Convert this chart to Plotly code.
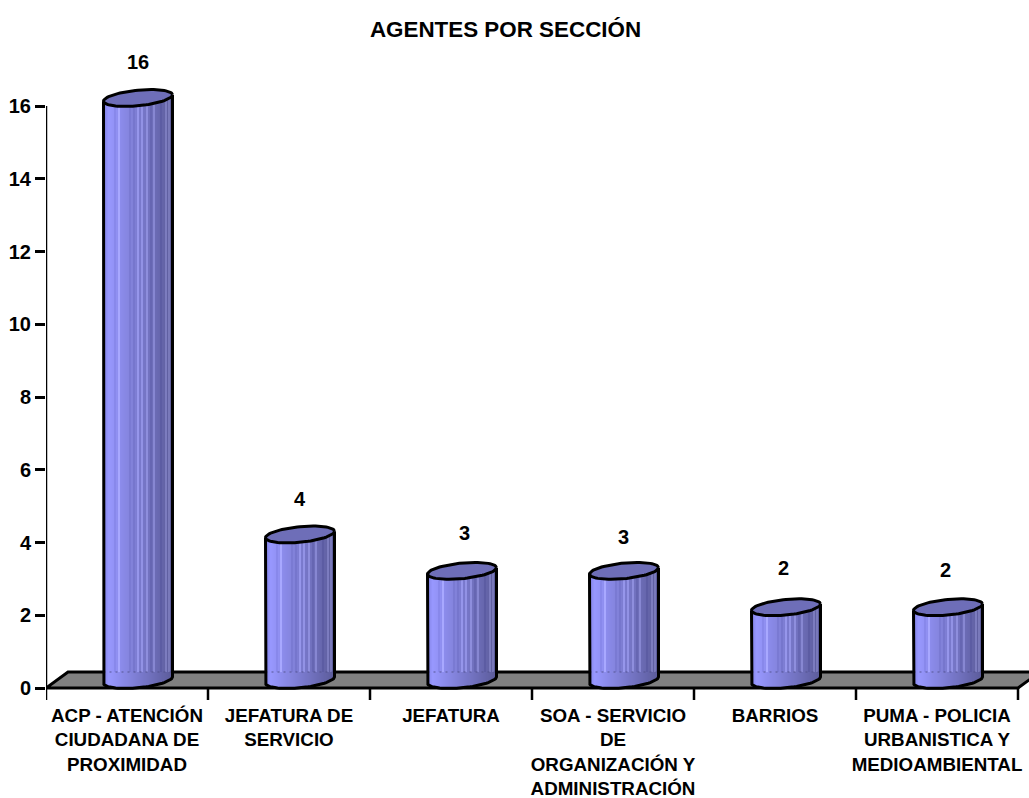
import plotly.graph_objects as go
import numpy as np

categories = ["ACP - ATENCIÓN<br>CIUDADANA DE<br>PROXIMIDAD", "JEFATURA DE<br>SERVICIO", "JEFATURA",
              "SOA - SERVICIO<br>DE<br>ORGANIZACIÓN Y<br>ADMINISTRACIÓN", "BARRIOS",
              "PUMA - POLICIA<br>URBANISTICA Y<br>MEDIOAMBIENTAL"]
values = [16, 4, 3, 3, 2, 2]
y_ticks = [0, 2, 4, 6, 8, 10, 12, 14, 16]
label_shift_y = [44, 44, 46, 42, 47, 45]
label_shift_x = [0, 0, 2, -1, -3, -3]
title = "AGENTES POR SECCIÓN"

W, H = 1029, 798
L, R0, T, B0 = 46, 1029, 30, 700
PX_X = 1 / 162.0
PX_Y = 1 / 36.375
x0 = -0.5
xmax = x0 + (R0 - L) * PX_X
ymin = -(B0 - 688) * PX_Y
ymax = (688 - T) * PX_Y

cx_off = 11.0 * PX_X
a = 34.5 * PX_X
lift = 8.0 * PX_Y
shear = 3.2 * PX_Y
b = 7.8 * PX_Y
N = 69
FONT = "Liberation Sans"
light_streaks = [15, 34, 38, 43, 50, 62, 65]
dark_streaks = [11, 26, 30, 47, 57]


def color(u, add=0):
    f = (u + 1) / 2
    if f < 0.08:
        g = f / 0.08
        r, bl = 128 + 24 * g, 225 + 30 * g
    else:
        g = (f - 0.08) / 0.92
        r, bl = 152 - 60 * g, 255 - 100 * g
    return f"rgb({int(min(r + add, 255))},{int(min(r + add, 255))},{int(min(bl + add, 255))})"


fig = go.Figure()
cx = np.arange(len(values)) + cx_off
vals = np.array(values, float)
dx = 22 * PX_X
dy = 16 * PX_Y
for k in range(N):
    u = -1 + (2 * k + 1) / N
    base = lift + shear * u - b * np.sqrt(1 - u * u)
    top = vals + lift + shear * u
    fig.add_bar(x=cx + u * a, y=top - base, base=np.full(len(vals), base), width=2 * a / N,
                marker=dict(color=color(u), line=dict(width=0)), hoverinfo="skip", showlegend=False)
for streaks, add in ((light_streaks, 26), (dark_streaks, -10)):
    for p in streaks:
        u = -1 + (2 * p + 1) / N
        top = vals + lift + shear * u
        fig.add_bar(x=cx + u * a, y=top - dy, base=np.full(len(vals), dy), width=2 * a / N,
                    marker=dict(color=color(u, add), line=dict(width=0)), hoverinfo="skip", showlegend=False)

t_all = np.linspace(0, 2 * np.pi, 81)
t_front = np.linspace(np.pi, 2 * np.pi, 41)
for c0, v in zip(cx, vals):
    # faint dotted band where the floor's back edge shows through
    fig.add_scatter(x=[c0 - a, c0 + a], y=[dy, dy], mode="lines",
                    line=dict(color="rgba(80,80,140,0.45)", width=2, dash="2px,4px"), hoverinfo="skip",
                    showlegend=False, cliponaxis=False)
    # body outline
    xs = c0 + a * np.cos(t_front)
    ys = lift + shear * np.cos(t_front) + b * np.sin(t_front)
    xo = np.r_[c0 - a, xs, c0 + a]
    yo = np.r_[v + lift - shear, ys, v + lift + shear]
    fig.add_scatter(x=xo, y=yo, mode="lines", line=dict(color="black", width=3), hoverinfo="skip",
                    showlegend=False, cliponaxis=False)
    # top ellipse
    fig.add_scatter(x=c0 + a * np.cos(t_all), y=v + lift + shear * np.cos(t_all) + b * np.sin(t_all),
                    mode="lines", fill="toself", fillcolor="#6E6EB8", line=dict(color="black", width=3),
                    hoverinfo="skip", showlegend=False, cliponaxis=False)

# axis line and category ticks
edges = np.arange(len(values) + 1) - 0.5
tx, ty = [], []
for e in edges:
    tx += [e, e, None]
    ty += [0, ymin, None]
fig.add_scatter(x=tx, y=ty, mode="lines", line=dict(color="black", width=2.5), hoverinfo="skip",
                showlegend=False, cliponaxis=False)
fig.add_scatter(x=[x0, x0], y=[0, y_ticks[-1]], mode="lines", line=dict(color="black", width=2.5), hoverinfo="skip",
                showlegend=False, cliponaxis=False)

floor = f"M{x0},0 L{edges[-1]},0 L{edges[-1] + dx},{dy} L{x0 + dx},{dy} Z"
shapes = [dict(type="path", path=floor, xref="x", yref="y", fillcolor="#808080",
               line=dict(color="black", width=3), layer="below")]

ann = [dict(x=c0, y=v, text=f"<b>{int(v)}</b>", showarrow=False, yshift=sy, xshift=sx, xanchor="center",
            yanchor="middle", font=dict(family=FONT, size=20, color="black"))
       for c0, v, sy, sx in zip(cx, vals, label_shift_y, label_shift_x)]

fig.update_layout(
    width=W, height=H, autosize=False, barmode="overlay", paper_bgcolor="white", plot_bgcolor="white",
    margin=dict(l=L, r=W - R0, t=T, b=H - B0, pad=0),
    title=dict(text=f"<b>{title}</b>", x=505.5 / W, xanchor="center", y=1 - 29 / H,
               yanchor="middle", font=dict(family=FONT, size=22.4, color="black")),
    xaxis=dict(range=[x0, xmax], tickvals=list(range(len(values))), ticktext=[f"<b>{c}</b>" for c in categories],
               ticks="", ticklabelstandoff=2, showgrid=False, zeroline=False, showline=False, tickangle=0,
               tickfont=dict(family=FONT, size=18.8, color="black")),
    yaxis=dict(range=[ymin, ymax], tickvals=y_ticks, ticktext=[f"<b>{v}</b>" for v in y_ticks], ticks="outside",
               ticklen=10, tickwidth=2.5, tickcolor="black", showgrid=False, zeroline=False, showline=False,
               tickfont=dict(family=FONT, size=20, color="black")),
    shapes=shapes, annotations=ann, showlegend=False,
)
fig.write_html("out.html", default_width=f"{W}px", default_height=f"{H}px", config={"displayModeBar": False},
               post_script="document.body.style.margin='0';document.documentElement.style.overflow='hidden';")
